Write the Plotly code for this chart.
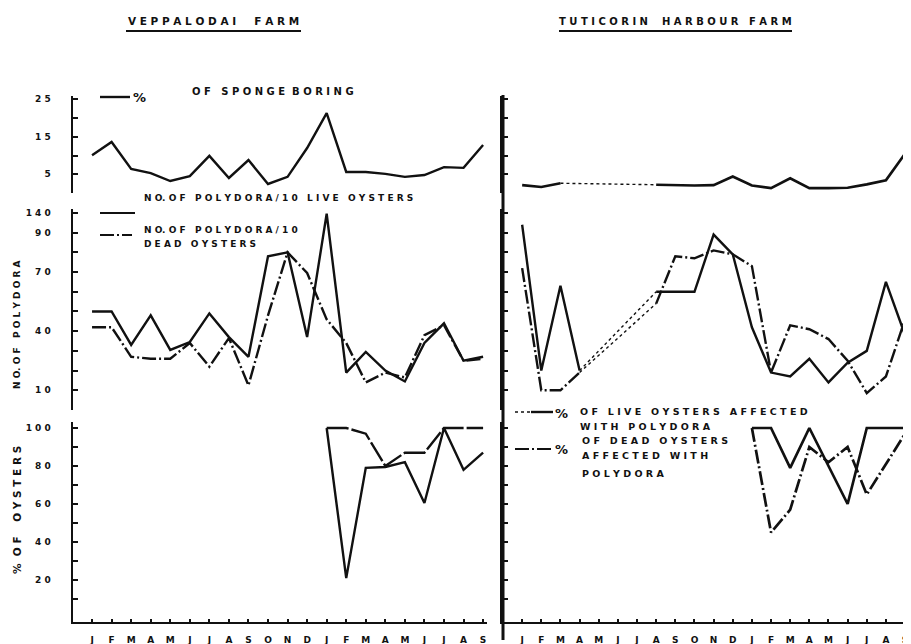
import plotly.graph_objects as go

# ---------------- data ----------------
months = ["J", "F", "M", "A", "M", "J", "J", "A", "S", "O", "N", "D",
          "J", "F", "M", "A", "M", "J", "J", "A", "S"]
month_idx = list(range(len(months)))

# % of sponge boring
veppalodai_sponge = [10.1, 13.6, 6.4, 5.3, 3.2, 4.5, 9.9, 4.0, 8.8, 2.4, 4.3, 12.0,
                     21.3, 5.6, 5.6, 5.1, 4.3, 4.8, 6.9, 6.7, 12.8]
tuticorin_sponge = [2.1, 1.6, 2.6, None, None, None, None, 2.2, 2.0, 2.0, 2.1, 4.4,
                    2.0, 1.3, 3.9, 1.3, 1.3, 1.4, 2.3, 3.4, 10.5]

# No. of Polydora / 10 oysters
veppalodai_polydora_live = [50, 50, 33, 48, 30.5, 34.5, 49, 37, 27, 78, 80, 37,
                            138, 19, 29.5, 20, 14.5, 34, 44, 25, 27]
veppalodai_polydora_dead = [42, 42, 27, 26, 26, 34, 22, 36.5, 12.5, 48, 80, 69.5,
                            46, 34, 14, 19, 16.5, 38, 43, 25, 26]
tuticorin_polydora_live = [110, 20, 63, 20, None, None, None, 60, 60, 60, 89, 79,
                           42, 19, 17, 26, 14, 24, 30, 65, 38]
tuticorin_polydora_dead = [72, 10, 10, 19, None, None, None, 54, 78, 77, 81, 79,
                           73, 19, 43, 41, 36, 25, 8.6, 17, 46]

# % of oysters affected with Polydora
veppalodai_pct_live = [None] * 12 + [100, 100, 97, 80, 87, 87, 100, 100, 100]
veppalodai_pct_dead = [None] * 12 + [100, 21, 79, 79.5, 82, 60.5, 100, 78, 87]
tuticorin_pct_live = [None] * 12 + [100, 100, 79, 100, 80, 60, 100, 100, 100]
tuticorin_pct_dead = [None] * 12 + [100, 45, 57, 90, 82, 90, 65, 81, 97]

sponge_ticks = [0, 5, 10, 15, 20, 25]
sponge_ticktext = ["", "5", "", "1 5", "", "2 5"]
polydora_ticks = [10, 20, 30, 40, 50, 60, 70, 80, 90, 140]
polydora_ticktext = ["1 0", "", "", "4 0", "", "", "7 0", "", "9 0", "1 4 0"]
pct_ticks = [10, 20, 30, 40, 50, 60, 70, 80, 90, 100]
pct_ticktext = ["", "2 0", "", "4 0", "", "6 0", "", "8 0", "", "1 0 0"]

# ---------------- helpers ----------------
WIN_W, WIN_H = 911, 644
OFF = 8                      # page body margin of the html page
W, H = WIN_W - OFF, WIN_H - OFF
INK = "#111111"
FONT = "DejaVu Sans"


def bold(labels):
    return [f"<b>{t}</b>" if t else "" for t in labels]


def brk(v):
    """broken Polydora scale: above 90 the axis is compressed (90..140 drawn in 10 units)"""
    if v is None:
        return None
    return v if v <= 90 else 90 + (v - 90) * 0.2


def gaps(series):
    """pairs of valid points bridging runs of missing months"""
    out = []
    last = None
    for i, v in enumerate(series):
        if v is None:
            continue
        if last is not None and i - last > 1:
            out.append(([last, i], [series[last], v]))
        last = i
    return out


def px(x):
    return (x - OFF) / W


def py(y):
    return 1 - (y - OFF) / H


fig = go.Figure()


def add_series(series, xa, ya, dash="solid", width=2.4, bridge=True):
    fig.add_trace(go.Scatter(x=month_idx, y=series, mode="lines", xaxis=xa, yaxis=ya,
                             line=dict(color=INK, width=width, dash=dash),
                             connectgaps=False, showlegend=False, hoverinfo="skip"))
    if bridge:
        for gx, gy in gaps(series):
            fig.add_trace(go.Scatter(x=gx, y=gy, mode="lines", xaxis=xa, yaxis=ya,
                                     line=dict(color=INK, width=1.4, dash="dot"),
                                     showlegend=False, hoverinfo="skip"))


DASHDOT = "14px,3px,2px,3px"

# Veppalodai (left)
add_series(veppalodai_sponge, "x", "y")
add_series([brk(v) for v in veppalodai_polydora_live], "x2", "y2")
add_series([brk(v) for v in veppalodai_polydora_dead], "x2", "y2", dash=DASHDOT)
add_series(veppalodai_pct_live, "x3", "y3", dash="22px,3px", bridge=False)
add_series(veppalodai_pct_dead, "x3", "y3", bridge=False)
# Tuticorin (right)
add_series(tuticorin_sponge, "x4", "y4", width=2.7)
add_series([brk(v) for v in tuticorin_polydora_live], "x5", "y5")
add_series([brk(v) for v in tuticorin_polydora_dead], "x5", "y5", dash=DASHDOT)
add_series(tuticorin_pct_live, "x6", "y6", width=2.7, bridge=False)
add_series(tuticorin_pct_dead, "x6", "y6", dash=DASHDOT, width=2.7, bridge=False)

# ---------------- axes ----------------
LDOM = [px(72.5), px(487)]
RDOM = [px(503), 1.0]
TOP = [py(193), py(95.5)]
MID = [py(410), py(209)]
BOT = [py(621.8), py(422.3)]

tickfont = dict(family=FONT, size=9, color=INK)


def xax(dom, rng, anchor, bottom):
    d = dict(domain=dom, range=rng, anchor=anchor, showgrid=False, zeroline=False,
             fixedrange=True, tickmode="array", tickvals=month_idx, ticktext=bold(months),
             tickfont=dict(family=FONT, size=9, color=INK), automargin=False,
             ticklabeloverflow="allow")
    if bottom:
        d.update(showline=True, linecolor=INK, linewidth=2, ticks="inside", ticklen=3,
                 tickcolor=INK, tickwidth=1.5, showticklabels=True, ticklabelstandoff=8)
    else:
        d.update(showline=False, ticks="", showticklabels=False)
    return d


def yax(dom, rng, anchor, tv, tt, labels, lw=2):
    return dict(domain=dom, range=rng, anchor=anchor, showgrid=False, zeroline=False,
                fixedrange=True, showline=True, linecolor=INK, linewidth=lw,
                ticks="inside", ticklen=5, tickcolor=INK, tickwidth=1.5,
                tickmode="array", tickvals=tv, ticktext=bold(tt), automargin=False,
                showticklabels=labels, tickfont=tickfont, ticklabelstandoff=18)


LR = [-1, 20.2]
RR = [-1, 20.31]
polydora_tickvals = [brk(v) for v in polydora_ticks]

fig.update_layout(
    width=W, height=H, margin=dict(l=0, r=0, t=0, b=0, autoexpand=False),
    paper_bgcolor="white", plot_bgcolor="white", showlegend=False,
    font=dict(family=FONT, color=INK),
    xaxis=xax(LDOM, LR, "y", False),
    xaxis2=xax(LDOM, LR, "y2", False),
    xaxis3=xax(LDOM, LR, "y3", True),
    xaxis4=xax(RDOM, RR, "y4", False),
    xaxis5=xax(RDOM, RR, "y5", False),
    xaxis6=xax(RDOM, RR, "y6", True),
    yaxis=yax(TOP, [0, 26], "x", sponge_ticks, sponge_ticktext, True),
    yaxis2=yax(MID, [0, 102], "x2", polydora_tickvals, polydora_ticktext, True),
    yaxis3=yax(BOT, [-2, 103], "x3", pct_ticks, pct_ticktext, True),
    yaxis4=yax(TOP, [0, 26], "x4", sponge_ticks, sponge_ticktext, False, 3),
    yaxis5=yax(MID, [0, 102], "x5", polydora_tickvals, polydora_ticktext, False, 3),
    yaxis6=yax(BOT, [-2, 103], "x6", pct_ticks, pct_ticktext, False, 3),
)

shapes = []
# continuous separator / right-hand y axis
shapes.append(dict(type="line", xref="paper", yref="paper", x0=px(503), x1=px(503),
                   y0=py(95), y1=py(640), line=dict(color=INK, width=3)))
# title underlines
shapes.append(dict(type="line", xref="paper", yref="paper", x0=px(126), x1=px(301),
                   y0=py(31), y1=py(31), line=dict(color=INK, width=2)))
shapes.append(dict(type="line", xref="paper", yref="paper", x0=px(559), x1=px(792),
                   y0=py(31), y1=py(31), line=dict(color=INK, width=2)))
# legend samples
shapes.append(dict(type="line", xref="paper", yref="paper", x0=px(100), x1=px(130),
                   y0=py(97), y1=py(97), line=dict(color=INK, width=2.4)))
shapes.append(dict(type="line", xref="paper", yref="paper", x0=px(100), x1=px(135),
                   y0=py(213), y1=py(213), line=dict(color=INK, width=2)))
shapes.append(dict(type="line", xref="paper", yref="paper", x0=px(100), x1=px(132),
                   y0=py(235), y1=py(235), line=dict(color=INK, width=2, dash=DASHDOT)))
shapes.append(dict(type="line", xref="paper", yref="paper", x0=px(515), x1=px(531),
                   y0=py(412), y1=py(412), line=dict(color=INK, width=1.5, dash="dot")))
shapes.append(dict(type="line", xref="paper", yref="paper", x0=px(531), x1=px(553),
                   y0=py(412), y1=py(412), line=dict(color=INK, width=2.4)))
shapes.append(dict(type="line", xref="paper", yref="paper", x0=px(515), x1=px(553),
                   y0=py(449), y1=py(449), line=dict(color=INK, width=2, dash=DASHDOT)))
fig.update_layout(shapes=shapes)


def ann(text, x, y, size=9, xanchor="left", angle=0):
    fig.add_annotation(text=text, x=px(x), y=py(y), xref="paper", yref="paper",
                       xanchor=xanchor, yanchor="middle", showarrow=False,
                       textangle=angle, align="left",
                       font=dict(family=FONT, size=size, color=INK))


ann("<b>V E P P A L O D A I     F A R M</b>", 213, 21, size=10.5, xanchor="center")
ann("<b>T U T I C O R I N    H A R B O U R   F A R M</b>", 675, 21, size=10, xanchor="center")

ann("<b>%</b>", 131, 97, size=13)
ann("<b>O F   S P O N G E  B O R I N G</b>", 190, 91, size=10)
ann("<b>N O. O F   P O L Y D O R A / 1 0   L I V E   O Y S T E R S</b>", 142, 198, size=9)
ann("<b>N O. O F   P O L Y D O R A / 1 0</b>", 142, 230, size=9)
ann("<b>D E A D   O Y S T E R S</b>", 142, 244, size=9)

ann("<b>%</b>", 553, 413, size=13)
ann("<b>O F   L I V E   O Y S T E R S   A F F E C T E D</b>", 578, 411, size=9.5)
ann("<b>W I T H   P O L Y D O R A</b>", 578, 426, size=9.5)
ann("<b>%</b>", 553, 449, size=13)
ann("<b>O F   D E A D   O Y S T E R S</b>", 580, 440, size=9.5)
ann("<b>A F F E C T E D   W I T H</b>", 580, 456, size=9.5)
ann("<b>P O L Y D O R A</b>", 580, 474, size=9.5)

ann("<b>N O. O F   P O L Y D O R A</b>", 17, 325, size=9, xanchor="center", angle=-90)
ann("<b>%  O F    O Y S T E R S</b>", 17, 510, size=10.5, xanchor="center", angle=-90)

fig.write_html("out.html")
